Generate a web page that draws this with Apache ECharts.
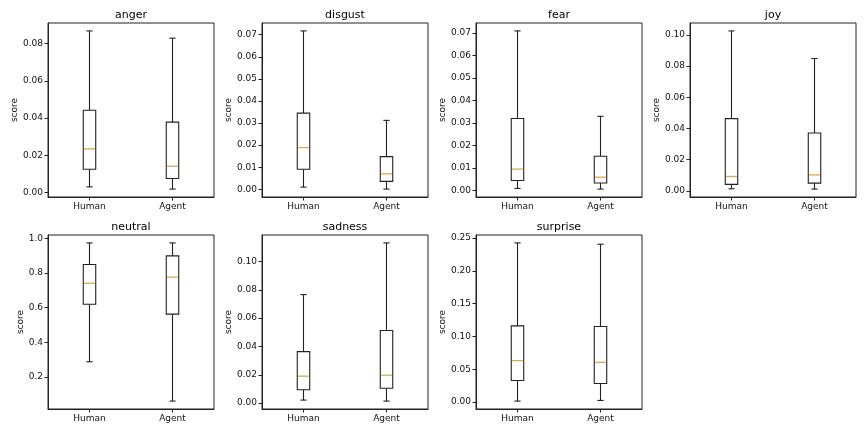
<!DOCTYPE html>
<html>
<head>
<meta charset="utf-8">
<title>emotion scores</title>
<script src="https://cdn.jsdelivr.net/npm/echarts@6/dist/echarts.min.js"></script>
<style>
  html, body { margin: 0; padding: 0; background: #fff; }
</style>
</head>
<body>
<div id="main" style="width: 867px;height:434px;"></div>
<script type="text/javascript">
// panels and groups
var emotions = ['anger', 'disgust', 'fear', 'joy', 'neutral', 'sadness', 'surprise'];
var groups = ['Human', 'Agent'];

// per group: [low whisker, Q1, median, Q3, high whisker]
var anger    = [[0.0030, 0.0125, 0.0234, 0.0442, 0.0868], [0.0018, 0.0075, 0.0141, 0.0378, 0.0829]];
var disgust  = [[0.0010, 0.0091, 0.0189, 0.0345, 0.0717], [0.0001, 0.0036, 0.0070, 0.0148, 0.0312]];
var fear     = [[0.0009, 0.0044, 0.0095, 0.0320, 0.0710], [0.0006, 0.0033, 0.0059, 0.0152, 0.0330]];
var joy      = [[0.0013, 0.0041, 0.0092, 0.0463, 0.1026], [0.0011, 0.0049, 0.0102, 0.0371, 0.0849]];
var neutral  = [[0.287, 0.619, 0.740, 0.848, 0.973], [0.060, 0.562, 0.775, 0.898, 0.973]];
var sadness  = [[0.0021, 0.0094, 0.0190, 0.0363, 0.0766], [0.0014, 0.0105, 0.0197, 0.0513, 0.1131]];
var surprise = [[0.0015, 0.0328, 0.0631, 0.1160, 0.2424], [0.0025, 0.0283, 0.0606, 0.1150, 0.2404]];

// y tick labels
var angerTicks    = [0, 0.02, 0.04, 0.06, 0.08];
var disgustTicks  = [0, 0.01, 0.02, 0.03, 0.04, 0.05, 0.06, 0.07];
var fearTicks     = [0, 0.01, 0.02, 0.03, 0.04, 0.05, 0.06, 0.07];
var joyTicks      = [0, 0.02, 0.04, 0.06, 0.08, 0.10];
var neutralTicks  = [0.2, 0.4, 0.6, 0.8, 1.0];
var sadnessTicks  = [0, 0.02, 0.04, 0.06, 0.08, 0.10];
var surpriseTicks = [0, 0.05, 0.10, 0.15, 0.20, 0.25];

var panelData  = [anger, disgust, fear, joy, neutral, sadness, surprise];
var panelTicks = [angerTicks, disgustTicks, fearTicks, joyTicks, neutralTicks, sadnessTicks, surpriseTicks];
var tickDecimals = [2, 2, 2, 2, 1, 2, 2];

// layout
var FONT = 'DejaVu Sans';
var lefts = [48, 262, 476, 690];
var tops = [23, 235];
var W = 166, H = 174;
var LINE = '#222';
var MEDIAN = '#dca94f';

var grids = [], xAxes = [], yAxes = [], series = [], titles = [];

function renderBox(params, api) {
    var x = api.value(0);
    var pLow = api.coord([x, api.value(1)]);
    var pQ1  = api.coord([x, api.value(2)]);
    var pMed = api.coord([x, api.value(3)]);
    var pQ3  = api.coord([x, api.value(4)]);
    var pHigh = api.coord([x, api.value(5)]);
    var band = api.size([1, 0])[0];
    var half = band * 0.15 / 2;
    var cap = half / 2;
    var cx = pMed[0];
    var ls = { stroke: LINE, lineWidth: 1.1, fill: null };
    return {
        type: 'group',
        children: [
            { type: 'line', shape: { x1: cx, y1: pQ3[1], x2: cx, y2: pHigh[1] }, style: ls },
            { type: 'line', shape: { x1: cx, y1: pLow[1], x2: cx, y2: pQ1[1] }, style: ls },
            { type: 'line', shape: { x1: cx - cap, y1: pHigh[1], x2: cx + cap, y2: pHigh[1] }, style: ls },
            { type: 'line', shape: { x1: cx - cap, y1: pLow[1], x2: cx + cap, y2: pLow[1] }, style: ls },
            { type: 'rect', shape: { x: cx - half, y: pQ3[1], width: half * 2, height: pQ1[1] - pQ3[1] },
              style: { stroke: LINE, lineWidth: 1.1, fill: '#fff' } },
            { type: 'line', shape: { x1: cx - half + 0.6, y1: pMed[1], x2: cx + half - 0.6, y2: pMed[1] },
              style: { stroke: MEDIAN, lineWidth: 1.3 } }
        ]
    };
}

for (var i = 0; i < emotions.length; i++) {
    var row = i < 4 ? 0 : 1;
    var col = i % 4;
    var d = panelData[i];
    var lo = Math.min(d[0][0], d[1][0]);
    var hi = Math.max(d[0][4], d[1][4]);
    var pad = (hi - lo) * 0.05;
    var dec = tickDecimals[i];

    grids.push({
        left: lefts[col], top: tops[row], width: W, height: H,
        show: true, borderColor: LINE, borderWidth: 1, backgroundColor: 'transparent'
    });
    xAxes.push({
        type: 'category', gridIndex: i, data: groups,
        axisLine: { show: true, onZero: false, lineStyle: { color: LINE, width: 1 } },
        axisTick: { show: true, alignWithLabel: true, length: 3.5, lineStyle: { color: LINE } },
        axisLabel: { margin: 5, fontSize: 9, fontFamily: FONT, color: '#111' },
        splitLine: { show: false }
    });
    yAxes.push({
        type: 'value', gridIndex: i, min: lo - pad, max: hi + pad,
        name: 'score', nameLocation: 'middle', nameRotate: 90,
        nameGap: dec === 1 ? 22 : 28,
        nameTextStyle: { fontSize: 9, fontFamily: FONT, color: '#111' },
        axisLine: { show: true, onZero: false, lineStyle: { color: LINE, width: 1 } },
        axisTick: { show: true, length: 3.5, lineStyle: { color: LINE }, customValues: panelTicks[i] },
        axisLabel: {
            margin: 5, fontSize: 9, fontFamily: FONT, color: '#111',
            customValues: panelTicks[i],
            formatter: (function (n) { return function (v) { return v.toFixed(n); }; })(dec)
        },
        splitLine: { show: false }
    });
    series.push({
        type: 'custom', xAxisIndex: i, yAxisIndex: i,
        renderItem: renderBox,
        encode: { x: 0, y: [1, 2, 3, 4, 5] },
        data: groups.map(function (g, k) { return [k].concat(d[k]); })
    });
    titles.push({
        type: 'text',
        x: lefts[col] + W / 2,
        y: row === 0 ? 15 : 227,
        style: { text: emotions[i], fill: '#000', font: '11px "DejaVu Sans"', align: 'center', verticalAlign: 'middle' }
    });
}

var myChart = echarts.init(document.getElementById('main'));
var option = {
    animation: false,
    backgroundColor: '#fff',
    textStyle: { fontFamily: FONT },
    grid: grids,
    xAxis: xAxes,
    yAxis: yAxes,
    series: series,
    graphic: titles
};
myChart.setOption(option);
window.onresize = function () {
    myChart.resize();
};
</script>
</body>
</html>
